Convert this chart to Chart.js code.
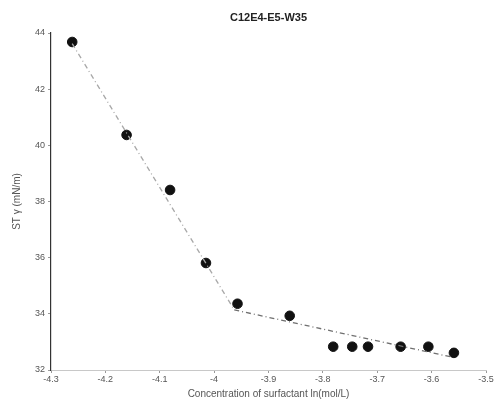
<!DOCTYPE html>
<html>
<head>
<meta charset="utf-8">
<script src="https://cdn.jsdelivr.net/npm/chart.js@4"></script>
<style>
  html, body { margin: 0; padding: 0; background: #fff; }
  #wrap { width: 495px; height: 417px; }
</style>
</head>
<body>
<div id="wrap"><canvas id="main-chart" width="495" height="417"></canvas></div>
<script>
// measured points, ln(c) vs surface tension
const lnConc = [-4.261, -4.161, -4.081, -4.015, -3.957, -3.861, -3.781, -3.746, -3.717, -3.657, -3.606, -3.559];
const tension = [43.68, 40.37, 38.41, 35.81, 34.36, 33.93, 32.83, 32.83, 32.83, 32.83, 32.83, 32.61];

// two linear fits (below / above CMC)
const fitLowX = [-4.261, -3.963];
const fitLowY = [43.62, 34.14];
const fitHighX = [-3.963, -3.565];
const fitHighY = [34.14, 32.47];

const xTicks = [-4.3, -4.2, -4.1, -4, -3.9, -3.8, -3.7, -3.6, -3.5];
const yTicks = [32, 34, 36, 38, 40, 42, 44];

const chartTitle = 'C12E4-E5-W35';

const pts = (xs, ys) => xs.map((x, i) => ({x: x, y: ys[i]}));

const labelFont = {family: "'Liberation Sans', Arial, sans-serif", size: 9};

// title centred over the plot area, not the canvas
const plotTitle = {
  id: 'plotTitle',
  afterDraw(chart) {
    const {ctx, chartArea} = chart;
    ctx.save();
    ctx.font = "bold 11px 'Liberation Sans', Arial, sans-serif";
    ctx.fillStyle = '#222';
    ctx.textAlign = 'center';
    ctx.textBaseline = 'middle';
    ctx.fillText(chartTitle, (chartArea.left + chartArea.right) / 2, 18);
    ctx.restore();
  }
};

var config = {
  type: 'scatter',
  data: {
    datasets: [{
      label: 'fit1',
      type: 'line',
      data: pts(fitLowX, fitLowY),
      borderColor: '#a8a8a8',
      borderWidth: 1.3,
      borderDash: [5, 3, 1, 3],
      pointRadius: 0,
      fill: false
    }, {
      label: 'fit2',
      type: 'line',
      data: pts(fitHighX, fitHighY),
      borderColor: '#707070',
      borderWidth: 1.3,
      borderDash: [5, 3, 1, 3],
      pointRadius: 0,
      fill: false
    }, {
      label: 'data',
      data: pts(lnConc, tension),
      backgroundColor: '#111',
      borderColor: '#111',
      pointRadius: 4.8
    }]
  },
  options: {
    responsive: false,
    animation: false,
    layout: {padding: {left: 0, right: 9, top: 33, bottom: 17}},
    plugins: {
      legend: {display: false},
      tooltip: {enabled: false},
      title: {display: false}
    },
    scales: {
      x: {
        type: 'linear',
        min: -4.3,
        max: -3.5,
        afterBuildTicks: s => { s.ticks = xTicks.map(v => ({value: v})); },
        afterFit: s => { s.height = 30; },
        border: {color: '#c8c8c8', width: 1},
        grid: {drawOnChartArea: false, tickLength: 3, color: '#999'},
        ticks: {color: '#555', font: labelFont, padding: 1, maxRotation: 0,
                callback: v => String(Math.round(v * 10) / 10)},
        title: {display: true, text: 'Concentration of surfactant ln(mol/L)', color: '#555',
                font: {family: "'Liberation Sans', Arial, sans-serif", size: 10}, padding: {top: 1, bottom: 0}}
      },
      y: {
        min: 32,
        max: 44,
        afterBuildTicks: s => { s.ticks = yTicks.map(v => ({value: v})); },
        afterFit: s => { s.width = 51; },
        border: {color: '#333', width: 1.2},
        grid: {drawOnChartArea: false, tickLength: 3, color: '#999'},
        ticks: {color: '#555', font: labelFont, padding: 3},
        title: {display: true, text: 'ST γ (mN/m)', color: '#555',
                font: {family: "'Liberation Sans', Arial, sans-serif", size: 10}, padding: {top: 11, bottom: 0}}
      }
    }
  },
  plugins: [plotTitle]
};

const myChart = new Chart(document.getElementById('main-chart'), config);
</script>
</body>
</html>
